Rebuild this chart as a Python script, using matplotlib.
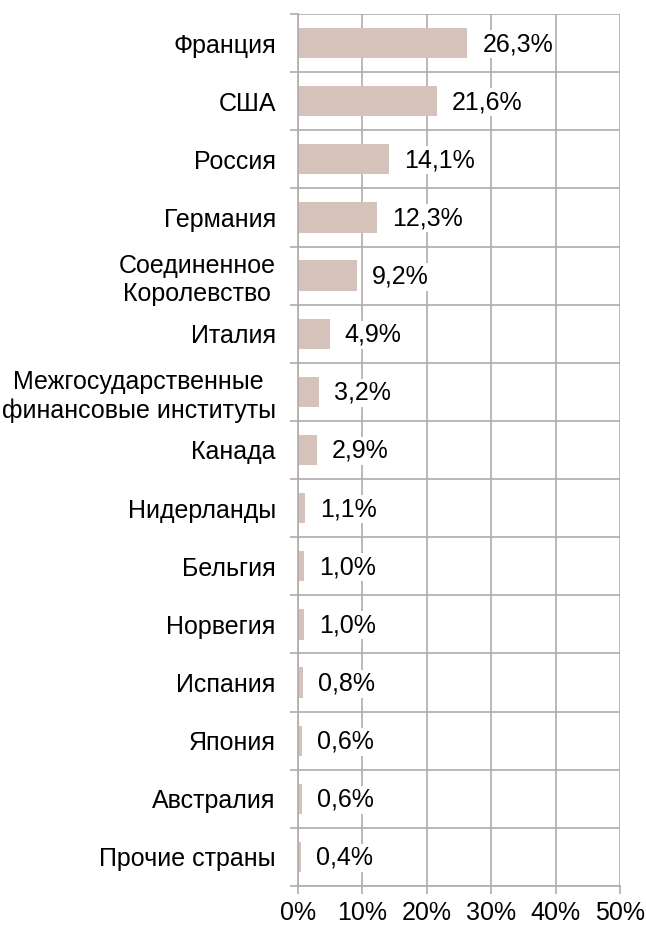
import matplotlib
matplotlib.use("Agg")
import matplotlib.pyplot as plt
import numpy as np

categories = ["Франция", "США", "Россия", "Германия", "Соединенное\nКоролевство",
              "Италия", "Межгосударственные\nфинансовые институты", "Канада",
              "Нидерланды", "Бельгия", "Норвегия", "Испания", "Япония",
              "Австралия", "Прочие страны"]
values = [26.3, 21.6, 14.1, 12.3, 9.2, 4.9, 3.2, 2.9, 1.1, 1.0, 1.0, 0.8, 0.6, 0.6, 0.4]
value_labels = ["26,3%", "21,6%", "14,1%", "12,3%", "9,2%", "4,9%", "3,2%", "2,9%",
                "1,1%", "1,0%", "1,0%", "0,8%", "0,6%", "0,6%", "0,4%"]
x_ticks = [0, 10, 20, 30, 40, 50]
x_tick_labels = ["0%", "10%", "20%", "30%", "40%", "50%"]

plt.rcParams['font.family'] = ['Liberation Sans', 'DejaVu Sans']
FS = 18

fig = plt.figure(figsize=(6.46, 9.26), dpi=100)
ax = fig.add_axes([298/646, 1-886/926, 322/646, 872/926])

grid_c = "#b3aaaa"
bar_c = "#d5c2ba"
n = len(categories)
y = np.arange(n)
ax.barh(y, values, height=0.52, color=bar_c, zorder=2)
ax.set_ylim(n - 0.5, -0.5)
ax.set_xlim(0, 50)

ax.set_yticks(y)
ax.set_yticklabels(categories, fontsize=FS, multialignment='center')
ax.tick_params(axis='y', length=0, pad=16)
ax.set_yticks(np.arange(-0.5, n, 1), minor=True)
ax.tick_params(axis='y', which='minor', length=6, color=grid_c, width=1.2)

ax.set_xticks(x_ticks)
ax.set_xticklabels(x_tick_labels, fontsize=FS)
ax.tick_params(axis='x', length=6, color=grid_c, width=1.2, pad=5)

ax.grid(True, axis='x', which='major', color=grid_c, lw=1.2, zorder=0)
ax.grid(True, axis='y', which='minor', color=grid_c, lw=1.2, zorder=0)
ax.set_axisbelow(True)

for s in ['top', 'right']:
    ax.spines[s].set_visible(False)
for s in ['left', 'bottom']:
    ax.spines[s].set_color(grid_c)
    ax.spines[s].set_linewidth(1.2)

for yi, v, lab in zip(y, values, value_labels):
    ax.annotate(lab, (v, yi), xytext=(15, -1), textcoords='offset pixels',
                ha='left', va='center', fontsize=FS, zorder=3,
                bbox=dict(facecolor='white', edgecolor='none', pad=1.5))

fig.savefig("out.png", dpi=100)
